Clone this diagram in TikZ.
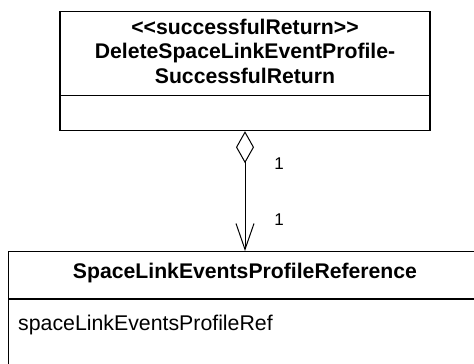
\documentclass[tikz,border=0pt]{standalone}
\usepackage{fontspec}
\setmainfont{Liberation Sans}
\usetikzlibrary{arrows.meta}
\tikzset{
  classbox/.style={draw=black, line width=1.2pt, rectangle, inner sep=0pt},
  titletext/.style={font=\fontsize{21.2}{24.5}\selectfont\bfseries, align=center, inner sep=0pt},
  attrtext/.style={font=\fontsize{21.3}{24.5}\selectfont, anchor=base west, inner sep=0pt},
  multtext/.style={font=\fontsize{17}{18}\selectfont, inner sep=0pt},
  assoc/.style={line width=1pt, {Diamond[open,length=32pt,width=18pt]}-{Straight Barb[length=26pt,width=18pt]}}
}
\begin{document}
\begin{tikzpicture}[x=1pt,y=-1pt]
\useasboundingbox (0,0) rectangle (474,364);
\clip (0,0) rectangle (474,364);
\fill[white] (0,0) rectangle (474,364);
% top class
\node[classbox, minimum width=370pt, minimum height=119.5pt, anchor=north] (top) at (245,10.5) {};
\draw[line width=1.2pt] (top.west |- 0,95.5) coordinate (tsl) -- (top.east |- 0,95.5) coordinate (tsr);
\node[titletext, anchor=base] (toptitle) at (245,83) {<\kern0pt<successfulReturn>\kern0pt>\\DeleteSpaceLinkEventProfile-\\SuccessfulReturn};
% bottom class
\node[classbox, minimum width=473pt, minimum height=150pt, anchor=north] (bot) at (245,251) {};
\draw[line width=1.2pt] (bot.west |- 0,299) coordinate (bsl) -- (bot.east |- 0,299) coordinate (bsr);
\node[titletext, anchor=base] (bottitle) at (245,278) {SpaceLinkEventsProfileReference};
\node[attrtext] (attr) at (18,330) {spaceLinkEventsProfileRef};
% association
\draw[assoc] (top.south) -- (bot.north);
\node[multtext, anchor=base] (m1) at (279,169) {1};
\node[multtext, anchor=base] (m2) at (279,225) {1};
\end{tikzpicture}
\end{document}
